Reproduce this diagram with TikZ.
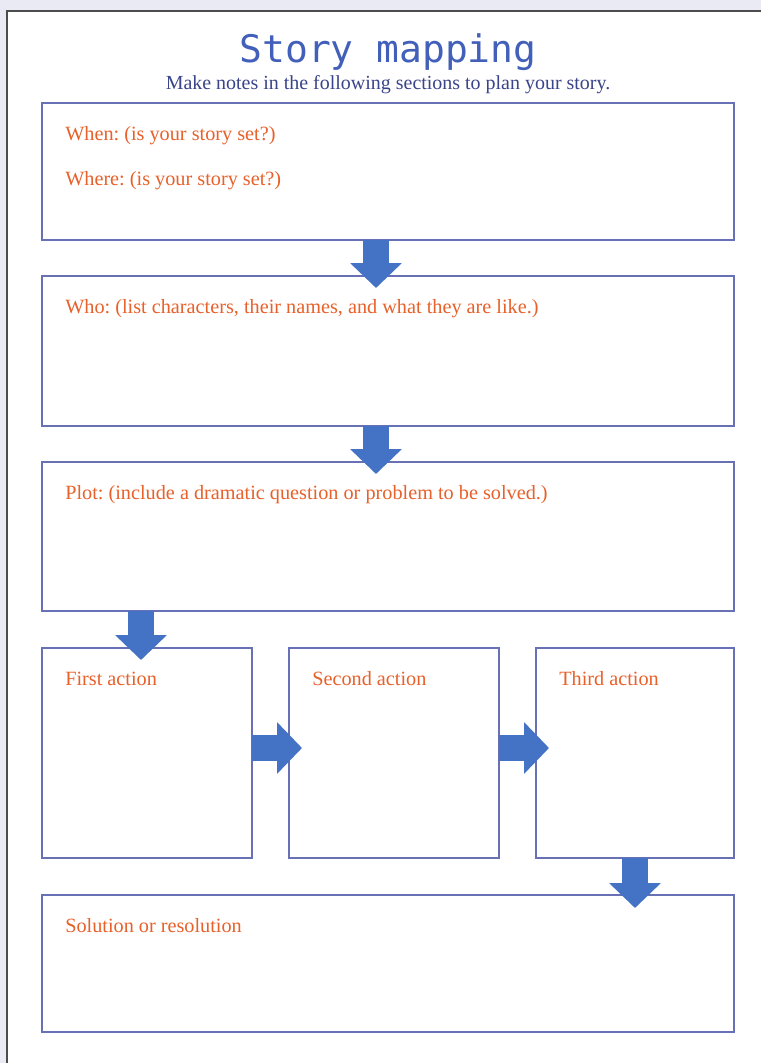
\documentclass[tikz,border=0pt]{standalone}
\usepackage{fontspec}
\setmainfont{Liberation Serif}
\newfontfamily\titlefont{DejaVu Sans Mono}
\usetikzlibrary{arrows.meta, positioning}
\definecolor{pageback}{RGB}{234,234,244}
\definecolor{frame}{RGB}{104,112,182}
\definecolor{arrowblue}{RGB}{68,114,196}
\definecolor{titleblue}{RGB}{66,96,186}
\definecolor{subnavy}{RGB}{58,68,138}
\definecolor{promptorange}{RGB}{232,96,42}
\frenchspacing

\begin{document}
\begin{tikzpicture}[node distance=0.9cm, >=Triangle]
  \tikzstyle{panel} = [rectangle, draw=frame, line width=1.3pt, minimum width=17.3cm, inner sep=0pt, outer sep=0pt]
  \tikzstyle{prompt} = [anchor=base west, inner sep=0pt, text=promptorange, font=\fontsize{14.4}{16}\selectfont]
  \tikzstyle{bigarrow} = [-{Triangle[length=0.62cm, width=1.25cm]}, line width=0.65cm, arrowblue]

  \useasboundingbox (0,0) rectangle (19.025,-26.575);
  \fill[pageback] (0,0) rectangle (19.025,-26.575);
  \fill[white] (0.175,-0.275) rectangle (19.1,-26.7);
  \draw[black!70, line width=1pt] (0.175,-26.7) -- (0.175,-0.275) -- (19.1,-0.275);

  \node[font=\titlefont\fontsize{27}{30}\selectfont, text=titleblue] (title) at (9.7,-1.3) {Story mapping};
  \node[font=\fontsize{14.2}{16}\selectfont, text=subnavy] (subtitle) at (9.7,-2.125) {Make notes in the following sections to plan your story.};

  \node[panel, minimum height=3.425cm] (when) at (9.7,-4.2875) {};
  \node[panel, minimum height=3.75cm, below=0.9cm of when] (who) {};
  \node[panel, minimum height=3.725cm, below=0.9cm of who] (plot) {};
  \node[panel, minimum width=5.25cm, minimum height=5.25cm, below=0.925cm of plot.south west, anchor=north west] (first) {};
  \node[panel, minimum width=5.25cm, minimum height=5.25cm, right=0.925cm of first] (second) {};
  \node[panel, minimum width=4.95cm, minimum height=5.25cm, right=0.925cm of second] (third) {};
  \node[panel, minimum height=3.425cm, below=0.925cm of first.south west, anchor=north west] (solution) {};

  \node[prompt] (whenlbl) at ([shift={(0.575,-0.925)}]when.north west) {When: (is your story set?)};
  \node[prompt] (wherelbl) at ([yshift=-1.125cm]whenlbl.base west) {Where: (is your story set?)};
  \node[prompt] (wholbl) at ([shift={(0.575,-0.925)}]who.north west) {Who: (list characters, their names, and what they are like.)};
  \node[prompt] (plotlbl) at ([shift={(0.575,-0.925)}]plot.north west) {Plot: (include a dramatic question or problem to be solved.)};
  \node[prompt] (firstlbl) at ([shift={(0.575,-0.925)}]first.north west) {First action};
  \node[prompt] (secondlbl) at ([shift={(0.575,-0.925)}]second.north west) {Second action};
  \node[prompt] (thirdlbl) at ([shift={(0.575,-0.925)}]third.north west) {Third action};
  \node[prompt] (solutionlbl) at ([shift={(0.575,-0.925)}]solution.north west) {Solution or resolution};

  \draw[bigarrow] ([xshift=-0.3cm]when.south) -- ([xshift=-0.3cm, yshift=-0.3cm]who.north);
  \draw[bigarrow] ([xshift=-0.3cm]who.south) -- ([xshift=-0.3cm, yshift=-0.3cm]plot.north);
  \draw[bigarrow] (plot.south -| first.north) ++(-0.15,0) -- ([xshift=-0.15cm, yshift=-0.3cm]first.north);
  \draw[bigarrow] ([yshift=0.125cm]first.east) -- ([xshift=0.325cm, yshift=0.125cm]second.west);
  \draw[bigarrow] ([yshift=0.125cm]second.east) -- ([xshift=0.325cm, yshift=0.125cm]third.west);
  \draw[bigarrow] (third.south) -- ([yshift=-0.325cm]third.south |- solution.north);
\end{tikzpicture}
\end{document}
